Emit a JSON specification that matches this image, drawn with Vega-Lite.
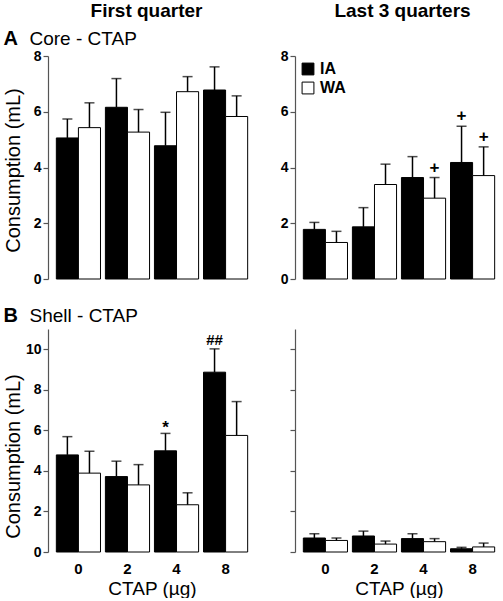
{
  "$schema": "https://vega.github.io/schema/vega-lite/v6.json",
  "padding": {"left": 3, "top": 1, "right": 0, "bottom": 0},
  "config": {
    "font": "Liberation Sans",
    "view": {"stroke": null},
    "axis": {"grid": false, "domainColor": "#555", "tickColor": "#555", "labelColor": "#000", "titleColor": "#000", "domainWidth": 1.2, "tickWidth": 1.2}
  },
  "datasets": {
    "d": [
      {"panel": "TL", "dose": "0", "grp": "IA", "mean": 5.06, "hi": 5.74, "sig": ""},
      {"panel": "TL", "dose": "0", "grp": "WA", "mean": 5.43, "hi": 6.32, "sig": ""},
      {"panel": "TL", "dose": "2", "grp": "IA", "mean": 6.16, "hi": 7.19, "sig": ""},
      {"panel": "TL", "dose": "2", "grp": "WA", "mean": 5.27, "hi": 6.08, "sig": ""},
      {"panel": "TL", "dose": "4", "grp": "IA", "mean": 4.78, "hi": 5.98, "sig": ""},
      {"panel": "TL", "dose": "4", "grp": "WA", "mean": 6.72, "hi": 7.26, "sig": ""},
      {"panel": "TL", "dose": "8", "grp": "IA", "mean": 6.78, "hi": 7.61, "sig": ""},
      {"panel": "TL", "dose": "8", "grp": "WA", "mean": 5.83, "hi": 6.57, "sig": ""},
      {"panel": "TR", "dose": "0", "grp": "IA", "mean": 1.78, "hi": 2.03, "sig": ""},
      {"panel": "TR", "dose": "0", "grp": "WA", "mean": 1.31, "hi": 1.71, "sig": ""},
      {"panel": "TR", "dose": "2", "grp": "IA", "mean": 1.87, "hi": 2.56, "sig": ""},
      {"panel": "TR", "dose": "2", "grp": "WA", "mean": 3.39, "hi": 4.12, "sig": ""},
      {"panel": "TR", "dose": "4", "grp": "IA", "mean": 3.64, "hi": 4.39, "sig": ""},
      {"panel": "TR", "dose": "4", "grp": "WA", "mean": 2.90, "hi": 3.64, "sig": "+"},
      {"panel": "TR", "dose": "8", "grp": "IA", "mean": 4.18, "hi": 5.48, "sig": "+"},
      {"panel": "TR", "dose": "8", "grp": "WA", "mean": 3.71, "hi": 4.74, "sig": "+"},
      {"panel": "BL", "dose": "0", "grp": "IA", "mean": 4.79, "hi": 5.69, "sig": ""},
      {"panel": "BL", "dose": "0", "grp": "WA", "mean": 3.89, "hi": 4.97, "sig": ""},
      {"panel": "BL", "dose": "2", "grp": "IA", "mean": 3.72, "hi": 4.48, "sig": ""},
      {"panel": "BL", "dose": "2", "grp": "WA", "mean": 3.31, "hi": 4.31, "sig": ""},
      {"panel": "BL", "dose": "4", "grp": "IA", "mean": 4.99, "hi": 5.85, "sig": "*"},
      {"panel": "BL", "dose": "4", "grp": "WA", "mean": 2.33, "hi": 2.92, "sig": ""},
      {"panel": "BL", "dose": "8", "grp": "IA", "mean": 8.87, "hi": 10.02, "sig": "##"},
      {"panel": "BL", "dose": "8", "grp": "WA", "mean": 5.75, "hi": 7.42, "sig": ""},
      {"panel": "BR", "dose": "0", "grp": "IA", "mean": 0.69, "hi": 0.90, "sig": ""},
      {"panel": "BR", "dose": "0", "grp": "WA", "mean": 0.57, "hi": 0.69, "sig": ""},
      {"panel": "BR", "dose": "2", "grp": "IA", "mean": 0.79, "hi": 1.03, "sig": ""},
      {"panel": "BR", "dose": "2", "grp": "WA", "mean": 0.39, "hi": 0.54, "sig": ""},
      {"panel": "BR", "dose": "4", "grp": "IA", "mean": 0.66, "hi": 0.90, "sig": ""},
      {"panel": "BR", "dose": "4", "grp": "WA", "mean": 0.51, "hi": 0.66, "sig": ""},
      {"panel": "BR", "dose": "8", "grp": "IA", "mean": 0.16, "hi": 0.23, "sig": ""},
      {"panel": "BR", "dose": "8", "grp": "WA", "mean": 0.25, "hi": 0.44, "sig": ""}
    ]
  },
  "columns": 2,
  "spacing": {"row": 50, "column": 39},
  "bounds": "flush",
  "align": "all",
  "resolve": {"legend": {"fill": "independent"}},
  "concat": [
    {
      "width": 208, "height": 223,
      "data": {"name": "d"},
      "transform": [{"filter": "datum.panel === 'TL'"}],
      "resolve": {"axis": {"x": "independent"}},
      "layer": [
        {
          "mark": {"type": "bar", "stroke": "black", "strokeWidth": 1},
          "encoding": {
            "x": {"field": "dose", "type": "nominal", "sort": ["0", "2", "4", "8"], "scale": {"paddingInner": 0.1, "paddingOuter": 0.17},
              "axis": {"orient": "top", "title": "First quarter", "labels": false, "ticks": false, "domain": false, "titleX": 98, "titleY": -40, "titleAlign": "center", "titleBaseline": "alphabetic", "titleFontSize": 19, "titleFontWeight": "bold"}},
            "xOffset": {"field": "grp", "type": "nominal", "scale": {"paddingInner": 0, "paddingOuter": 0}},
            "y": {"field": "mean", "type": "quantitative", "scale": {"domain": [0, 8]},
              "axis": {"values": [0, 2, 4, 6, 8], "title": "Consumption (mL)", "titleFontSize": 20, "titleFontWeight": "normal", "titleX": -29, "titleY": 114, "titleBaseline": "alphabetic", "titleAlign": "center", "labelFontSize": 14, "labelFontWeight": "bold", "tickSize": 5, "labelPadding": 2}},
            "fill": {"field": "grp", "type": "nominal", "scale": {"domain": ["IA", "WA"], "range": ["#000000", "#ffffff"]}, "legend": null}
          }
        },
        {
          "mark": {"type": "rule", "color": "black", "strokeWidth": 1.5},
          "encoding": {
            "x": {"field": "dose", "type": "nominal", "sort": ["0", "2", "4", "8"],
              "axis": {"orient": "top", "title": "Core - CTAP", "labels": false, "ticks": false, "domain": false, "titleX": -19, "titleY": -12, "titleAlign": "left", "titleBaseline": "alphabetic", "titleFontSize": 19, "titleFontWeight": "normal"}},
            "xOffset": {"field": "grp", "type": "nominal"},
            "y": {"field": "mean", "type": "quantitative"},
            "y2": {"field": "hi"}
          }
        },
        {
          "mark": {"type": "tick", "color": "black", "size": 10, "thickness": 1.5, "orient": "horizontal"},
          "encoding": {
            "x": {"field": "dose", "type": "nominal", "sort": ["0", "2", "4", "8"],
              "axis": {"orient": "top", "title": "A", "labels": false, "ticks": false, "domain": false, "titleX": -45, "titleY": -12, "titleAlign": "left", "titleBaseline": "alphabetic", "titleFontSize": 20, "titleFontWeight": "bold"}},
            "xOffset": {"field": "grp", "type": "nominal"},
            "y": {"field": "hi", "type": "quantitative"}
          }
        }
      ]
    },
    {
      "width": 208, "height": 223,
      "data": {"name": "d"},
      "transform": [{"filter": "datum.panel === 'TR'"}],
      "resolve": {"axis": {"x": "independent"}},
      "layer": [
        {
          "mark": {"type": "bar", "stroke": "black", "strokeWidth": 1},
          "encoding": {
            "x": {"field": "dose", "type": "nominal", "sort": ["0", "2", "4", "8"], "scale": {"paddingInner": 0.1, "paddingOuter": 0.17},
              "axis": {"orient": "top", "title": "Last 3 quarters", "labels": false, "ticks": false, "domain": false, "titleX": 107, "titleY": -40, "titleAlign": "center", "titleBaseline": "alphabetic", "titleFontSize": 19, "titleFontWeight": "bold"}},
            "xOffset": {"field": "grp", "type": "nominal", "scale": {"paddingInner": 0, "paddingOuter": 0}},
            "y": {"field": "mean", "type": "quantitative", "scale": {"domain": [0, 8]},
              "axis": {"values": [0, 2, 4, 6, 8], "title": null, "labelFontSize": 14, "labelFontWeight": "bold", "tickSize": 5, "labelPadding": 2}},
            "fill": {"field": "grp", "type": "nominal", "scale": {"domain": ["IA", "WA"], "range": ["#000000", "#ffffff"]},
              "legend": {"orient": "top-left", "offset": 5, "title": null, "symbolType": "square", "symbolSize": 140, "symbolStrokeColor": "black", "symbolStrokeWidth": 1, "labelFontSize": 16, "labelFontWeight": "bold", "labelOffset": 4, "rowPadding": 3, "padding": 0}}
          }
        },
        {
          "mark": {"type": "rule", "color": "black", "strokeWidth": 1.5},
          "encoding": {
            "x": {"field": "dose", "type": "nominal", "sort": ["0", "2", "4", "8"], "axis": null},
            "xOffset": {"field": "grp", "type": "nominal"},
            "y": {"field": "mean", "type": "quantitative"},
            "y2": {"field": "hi"}
          }
        },
        {
          "mark": {"type": "tick", "color": "black", "size": 10, "thickness": 1.5, "orient": "horizontal"},
          "encoding": {
            "x": {"field": "dose", "type": "nominal", "sort": ["0", "2", "4", "8"], "axis": null},
            "xOffset": {"field": "grp", "type": "nominal"},
            "y": {"field": "hi", "type": "quantitative"}
          }
        },
        {
          "mark": {"type": "text", "fontSize": 17, "fontWeight": "bold", "baseline": "alphabetic", "dy": -5},
          "encoding": {
            "x": {"field": "dose", "type": "nominal", "sort": ["0", "2", "4", "8"], "axis": null},
            "xOffset": {"field": "grp", "type": "nominal"},
            "y": {"field": "hi", "type": "quantitative"},
            "text": {"field": "sig"}
          }
        }
      ]
    },
    {
      "width": 208, "height": 223,
      "data": {"name": "d"},
      "transform": [{"filter": "datum.panel === 'BL'"}],
      "resolve": {"axis": {"x": "independent"}},
      "layer": [
        {
          "mark": {"type": "bar", "stroke": "black", "strokeWidth": 1},
          "encoding": {
            "x": {"field": "dose", "type": "nominal", "sort": ["0", "2", "4", "8"], "scale": {"paddingInner": 0.1, "paddingOuter": 0.17},
              "axis": {"orient": "bottom", "title": "CTAP (µg)", "labelAngle": 0, "ticks": false, "domain": false, "labelFontSize": 15, "labelFontWeight": "bold", "labelPadding": 9, "titleFontSize": 19, "titleFontWeight": "normal", "titlePadding": 3}},
            "xOffset": {"field": "grp", "type": "nominal", "scale": {"paddingInner": 0, "paddingOuter": 0}},
            "y": {"field": "mean", "type": "quantitative", "scale": {"domain": [0, 11]},
              "axis": {"values": [0, 2, 4, 6, 8, 10], "title": "Consumption (mL)", "titleFontSize": 20, "titleFontWeight": "normal", "titleX": -29, "titleY": 127, "titleBaseline": "alphabetic", "titleAlign": "center", "labelFontSize": 14, "labelFontWeight": "bold", "tickSize": 5, "labelPadding": 2}},
            "fill": {"field": "grp", "type": "nominal", "scale": {"domain": ["IA", "WA"], "range": ["#000000", "#ffffff"]}, "legend": null}
          }
        },
        {
          "mark": {"type": "rule", "color": "black", "strokeWidth": 1.5},
          "encoding": {
            "x": {"field": "dose", "type": "nominal", "sort": ["0", "2", "4", "8"],
              "axis": {"orient": "top", "title": "Shell - CTAP", "labels": false, "ticks": false, "domain": false, "titleX": -19, "titleY": -8, "titleAlign": "left", "titleBaseline": "alphabetic", "titleFontSize": 19, "titleFontWeight": "normal"}},
            "xOffset": {"field": "grp", "type": "nominal"},
            "y": {"field": "mean", "type": "quantitative"},
            "y2": {"field": "hi"}
          }
        },
        {
          "mark": {"type": "tick", "color": "black", "size": 10, "thickness": 1.5, "orient": "horizontal"},
          "encoding": {
            "x": {"field": "dose", "type": "nominal", "sort": ["0", "2", "4", "8"],
              "axis": {"orient": "top", "title": "B", "labels": false, "ticks": false, "domain": false, "titleX": -45, "titleY": -8, "titleAlign": "left", "titleBaseline": "alphabetic", "titleFontSize": 20, "titleFontWeight": "bold"}},
            "xOffset": {"field": "grp", "type": "nominal"},
            "y": {"field": "hi", "type": "quantitative"}
          }
        },
        {
          "transform": [{"filter": "datum.sig === '##'"}],
          "mark": {"type": "text", "fontSize": 15, "fontWeight": "bold", "baseline": "alphabetic", "dy": -4},
          "encoding": {
            "x": {"field": "dose", "type": "nominal", "sort": ["0", "2", "4", "8"], "axis": null},
            "xOffset": {"field": "grp", "type": "nominal"},
            "y": {"field": "hi", "type": "quantitative"},
            "text": {"field": "sig"}
          }
        },
        {
          "transform": [{"filter": "datum.sig === '*'"}],
          "mark": {"type": "text", "fontSize": 17, "fontWeight": "bold", "baseline": "alphabetic", "dy": 0},
          "encoding": {
            "x": {"field": "dose", "type": "nominal", "sort": ["0", "2", "4", "8"], "axis": null},
            "xOffset": {"field": "grp", "type": "nominal"},
            "y": {"field": "hi", "type": "quantitative"},
            "text": {"field": "sig"}
          }
        }
      ]
    },
    {
      "width": 208, "height": 223,
      "data": {"name": "d"},
      "transform": [{"filter": "datum.panel === 'BR'"}],
      "layer": [
        {
          "mark": {"type": "bar", "stroke": "black", "strokeWidth": 1},
          "encoding": {
            "x": {"field": "dose", "type": "nominal", "sort": ["0", "2", "4", "8"], "scale": {"paddingInner": 0.1, "paddingOuter": 0.17},
              "axis": {"orient": "bottom", "title": "CTAP (µg)", "labelAngle": 0, "ticks": false, "domain": false, "labelFontSize": 15, "labelFontWeight": "bold", "labelPadding": 9, "titleFontSize": 19, "titleFontWeight": "normal", "titlePadding": 3}},
            "xOffset": {"field": "grp", "type": "nominal", "scale": {"paddingInner": 0, "paddingOuter": 0}},
            "y": {"field": "mean", "type": "quantitative", "scale": {"domain": [0, 11]},
              "axis": {"values": [0, 2, 4, 6, 8, 10], "title": null, "labels": false, "tickSize": 5}},
            "fill": {"field": "grp", "type": "nominal", "scale": {"domain": ["IA", "WA"], "range": ["#000000", "#ffffff"]}, "legend": null}
          }
        },
        {
          "mark": {"type": "rule", "color": "black", "strokeWidth": 1.5},
          "encoding": {
            "x": {"field": "dose", "type": "nominal", "sort": ["0", "2", "4", "8"]},
            "xOffset": {"field": "grp", "type": "nominal"},
            "y": {"field": "mean", "type": "quantitative"},
            "y2": {"field": "hi"}
          }
        },
        {
          "mark": {"type": "tick", "color": "black", "size": 10, "thickness": 1.5, "orient": "horizontal"},
          "encoding": {
            "x": {"field": "dose", "type": "nominal", "sort": ["0", "2", "4", "8"]},
            "xOffset": {"field": "grp", "type": "nominal"},
            "y": {"field": "hi", "type": "quantitative"}
          }
        }
      ]
    }
  ]
}
